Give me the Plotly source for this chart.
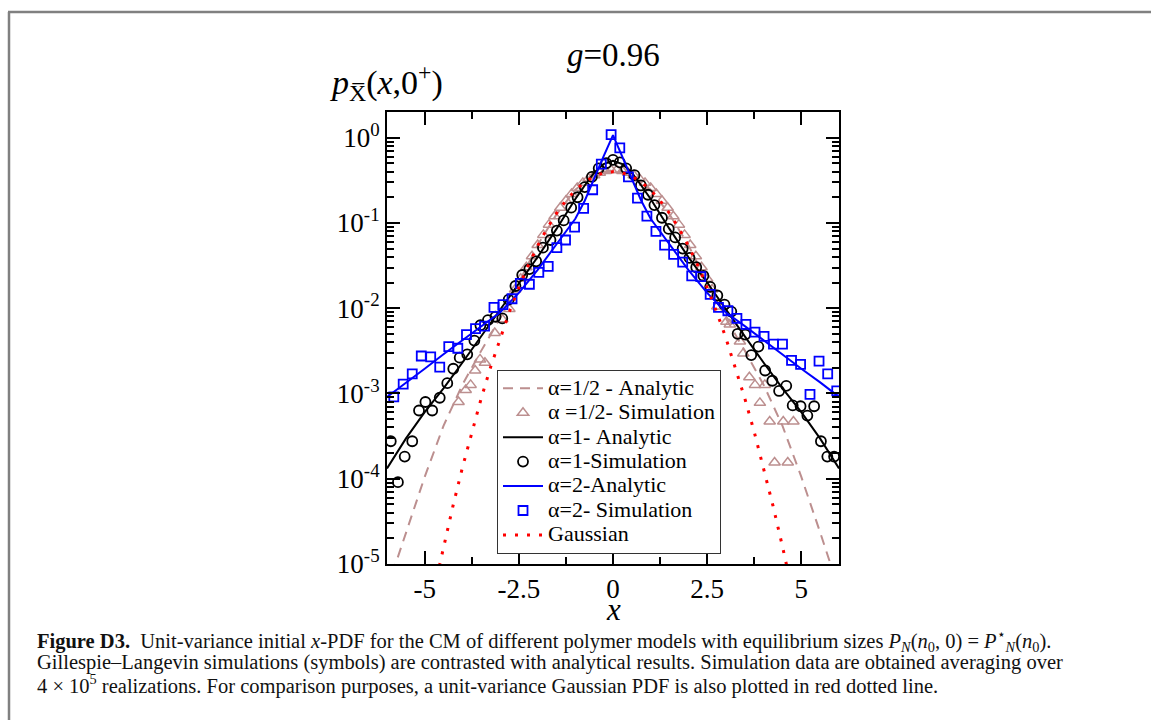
import plotly.graph_objects as go

# ---------------- data ----------------
# analytic curves (sampled)
curve_x = [-6, -5.5, -5, -4.5, -4, -3.5, -3, -2.5, -2, -1.5, -1, -0.75, -0.5, -0.25, 0,
           0.25, 0.5, 0.75, 1, 1.5, 2, 2.5, 3, 3.5, 4, 4.5, 5, 5.5, 6]
half_y = [5.0e-6, 2.34e-5, 1.05e-4, 4.17e-4, 1.26e-3, 3.16e-3, 7.59e-3, 2.00e-2, 5.50e-2, 0.126, 0.245, 0.300, 0.363, 0.395, 0.417,
          0.395, 0.363, 0.300, 0.245, 0.126, 5.50e-2, 2.00e-2, 7.59e-3, 3.16e-3, 1.26e-3, 4.17e-4, 1.05e-4, 2.34e-5, 5.0e-6]
one_y = [1.32e-4, 2.95e-4, 6.03e-4, 1.15e-3, 2.29e-3, 4.68e-3, 9.55e-3, 2.00e-2, 3.98e-2, 8.51e-2, 0.191, 0.275, 0.389, 0.490, 0.537,
         0.490, 0.389, 0.275, 0.191, 8.51e-2, 3.98e-2, 2.00e-2, 9.55e-3, 4.68e-3, 2.29e-3, 1.15e-3, 6.03e-4, 2.95e-4, 1.32e-4]
two_y = [9.12e-4, 1.35e-3, 1.95e-3, 2.88e-3, 4.17e-3, 6.17e-3, 8.91e-3, 1.51e-2, 2.82e-2, 5.62e-2, 0.112, 0.182, 0.339, 0.603, 1.072,
         0.603, 0.339, 0.182, 0.112, 5.62e-2, 2.82e-2, 1.51e-2, 8.91e-3, 6.17e-3, 4.17e-3, 2.88e-3, 1.95e-3, 1.35e-3, 9.12e-4]

gauss_x = [-4.75, -4.5, -4.25, -4, -3.75, -3.5, -3.25, -3, -2.75, -2.5, -2.25, -2, -1.75, -1.5, -1.25, -1, -0.75, -0.5, -0.25, 0,
           0.25, 0.5, 0.75, 1, 1.25, 1.5, 1.75, 2, 2.25, 2.5, 2.75, 3, 3.25, 3.5, 3.75, 4, 4.25, 4.5, 4.75]
gauss_y = [5.03e-6, 1.60e-5, 4.77e-5, 1.34e-4, 3.53e-4, 8.73e-4, 2.03e-3, 4.43e-3, 9.09e-3, 1.75e-2, 3.17e-2, 5.40e-2, 8.63e-2, 0.1295, 0.1826, 0.2420, 0.3011, 0.3521, 0.3867, 0.3989,
           0.3867, 0.3521, 0.3011, 0.2420, 0.1826, 0.1295, 8.63e-2, 5.40e-2, 3.17e-2, 1.75e-2, 9.09e-3, 4.43e-3, 2.03e-3, 8.73e-4, 3.53e-4, 1.34e-4, 4.77e-5, 1.60e-5, 5.03e-6]

# simulations
tri_x = [-4.10, -3.91, -3.78, -3.66, -3.53, -3.40, -3.14, -2.94, -2.75,
         -2.6, -2.45, -2.3, -2.15, -2.0, -1.85, -1.7, -1.55, -1.4, -1.25, -1.1, -0.95, -0.8, -0.65, -0.5, -0.35, -0.2, -0.05,
         0.1, 0.25, 0.4, 0.55, 0.7, 0.85, 1.0, 1.15, 1.3, 1.45, 1.6, 1.75, 1.9, 2.05, 2.2, 2.35, 2.5, 2.63,
         2.77, 3.01, 3.10, 3.37, 3.46, 3.62, 3.77, 3.90, 4.03, 4.16, 4.29, 4.52, 4.64, 4.79]
tri_y = [7.94e-4, 1.10e-3, 1.26e-3, 1.86e-3, 2.51e-3, 2.29e-3, 5.13e-3, 7.41e-3, 9.77e-3,
         1.66e-2, 2.21e-2, 3.02e-2, 4.07e-2, 5.50e-2, 7.24e-2, 9.55e-2, 0.120, 0.151, 0.182, 0.219, 0.257, 0.295, 0.331, 0.363, 0.389, 0.407, 0.417,
         0.417, 0.407, 0.389, 0.363, 0.331, 0.295, 0.257, 0.219, 0.182, 0.151, 0.120, 9.55e-2, 7.24e-2, 5.50e-2, 4.07e-2, 3.02e-2, 2.21e-2, 1.66e-2,
         1.05e-2, 6.92e-3, 6.46e-3, 4.07e-3, 2.95e-3, 1.55e-3, 1.26e-3, 7.76e-4, 1.26e-3, 4.68e-4, 1.55e-4, 4.68e-4, 1.55e-4, 4.68e-4]

circ_x = [-5.90, -5.71, -5.53, -5.33, -5.15, -4.98, -4.80, -4.60, -4.40, -4.24, -4.07, -3.87, -3.68, -3.52, -3.32, -3.12, -2.94,
          -2.77, -2.59, -2.41, -2.22, -2.04, -1.86, -1.66, -1.49, -1.31, -1.11, -0.94, -0.75, -0.56, -0.38, -0.18, 0.00,
          0.18, 0.35, 0.57, 0.74, 0.93, 1.10, 1.30, 1.48, 1.65, 1.85, 2.03, 2.21, 2.40, 2.58, 2.77, 2.96,
          3.14, 3.31, 3.51, 3.67, 3.86, 4.04, 4.23, 4.41, 4.60, 4.77, 4.98, 5.16, 5.34, 5.52, 5.69, 5.87]
circ_y = [2.75e-4, 9.12e-5, 1.82e-4, 2.75e-4, 6.31e-4, 7.94e-4, 6.31e-4, 8.91e-4, 1.32e-3, 1.95e-3, 2.63e-3, 2.88e-3, 4.17e-3, 6.31e-3, 7.24e-3, 7.94e-3, 7.59e-3,
          1.26e-2, 1.82e-2, 2.45e-2, 2.88e-2, 3.55e-2, 5.13e-2, 6.31e-2, 8.13e-2, 0.107, 0.151, 0.200, 0.263, 0.347, 0.437, 0.501, 0.550,
          0.513, 0.437, 0.363, 0.275, 0.214, 0.162, 0.115, 8.51e-2, 6.76e-2, 5.01e-2, 3.89e-2, 3.02e-2, 2.40e-2, 1.78e-2, 1.41e-2, 1.10e-2,
          9.12e-3, 5.01e-3, 4.90e-3, 2.82e-3, 3.55e-3, 1.86e-3, 1.41e-3, 1.07e-3, 1.23e-3, 7.24e-4, 7.08e-4, 5.50e-4, 7.08e-4, 2.75e-4, 1.82e-4, 1.82e-4]

sq_x = [-5.82, -5.57, -5.33, -5.09, -4.84, -4.60, -4.36, -4.12, -3.89, -3.65, -3.41, -3.16, -2.92, -2.68, -2.46, -2.22, -1.97,
        -1.72, -1.49, -1.26, -1.02, -0.78, -0.54, -0.31, -0.05,
        0.18, 0.41, 0.65, 0.90, 1.14, 1.37, 1.61, 1.85, 2.09, 2.33, 2.58, 2.80, 3.05, 3.29, 3.53, 3.77, 4.01, 4.26, 4.50, 4.74,
        4.98, 5.23, 5.47, 5.70, 5.94]
sq_y = [9.12e-4, 1.29e-3, 1.70e-3, 2.75e-3, 2.69e-3, 2.04e-3, 3.55e-3, 3.39e-3, 4.90e-3, 5.75e-3, 6.17e-3, 1.02e-2, 1.10e-2, 1.29e-2, 1.95e-2, 1.91e-2, 2.63e-2,
        3.09e-2, 5.13e-2, 6.31e-2, 8.91e-2, 0.148, 0.245, 0.490, 1.084,
        0.759, 0.347, 0.195, 0.120, 7.94e-2, 5.50e-2, 4.27e-2, 3.47e-2, 2.40e-2, 2.34e-2, 1.45e-2, 1.02e-2, 9.33e-3, 7.59e-3, 6.46e-3, 5.25e-3,
        4.68e-3, 3.80e-3, 3.80e-3, 2.45e-3, 2.19e-3, 9.77e-4, 2.40e-3, 1.70e-3, 1.07e-3]

names = ["α=1/2 - Analytic", "α =1/2- Simulation", "α=1- Analytic", "α=1-Simulation",
         "α=2-Analytic", "α=2- Simulation", "Gaussian"]
y_tickvals = [1e-5, 1e-4, 1e-3, 1e-2, 1e-1, 1]
y_ticktext = ["10<sup>-5</sup>", "10<sup>-4</sup>", "10<sup>-3</sup>", "10<sup>-2</sup>", "10<sup>-1</sup>", "10<sup>0</sup>"]
x_tickvals = [-5, -2.5, 0, 2.5, 5]
x_ticktext = ["-5", "-2.5", "0", "2.5", "5"]

BROWN = "#bc8f8f"
BLUE = "#0000ff"
FONT = "Liberation Serif"


def lg(name):
    # legend text drawn larger than the row pitch font
    return '<span style="font-size:22px">' + name + "</span>"


fig = go.Figure()
fig.add_trace(go.Scatter(x=curve_x, y=half_y, mode="lines", name=lg(names[0]),
                         line=dict(color=BROWN, width=2, dash="10px,7px")))
fig.add_trace(go.Scatter(x=tri_x, y=tri_y, mode="markers", name=lg(names[1]),
                         marker=dict(symbol="triangle-up-open", size=10, color=BROWN, line=dict(width=1.5, color=BROWN))))
fig.add_trace(go.Scatter(x=curve_x, y=one_y, mode="lines", name=lg(names[2]),
                         line=dict(color="black", width=2)))
fig.add_trace(go.Scatter(x=circ_x, y=circ_y, mode="markers", name=lg(names[3]),
                         marker=dict(symbol="circle-open", size=10, color="black", line=dict(width=1.8, color="black"))))
fig.add_trace(go.Scatter(x=curve_x, y=two_y, mode="lines", name=lg(names[4]),
                         line=dict(color=BLUE, width=2)))
fig.add_trace(go.Scatter(x=sq_x, y=sq_y, mode="markers", name=lg(names[5]),
                         marker=dict(symbol="square-open", size=9, color=BLUE, line=dict(width=1.8, color=BLUE))))
fig.add_trace(go.Scatter(x=gauss_x, y=gauss_y, mode="lines", name=lg(names[6]),
                         line=dict(color="#ff0000", width=3, dash="3px,9px")))

L, R, T, B = 387, 312, 112, 156
W, H = 1151, 720
PW, PH = W - L - R, H - T - B


def px(xp):
    return (xp - L) / PW


def py(yp):
    return (H - B - yp) / PH


fig.update_layout(
    width=W, height=H,
    margin=dict(l=L, r=R, t=T, b=B, pad=0),
    paper_bgcolor="white", plot_bgcolor="white",
    font=dict(family=FONT, color="black", size=20),
    showlegend=True,
    legend=dict(x=px(497), y=py(370), xanchor="left", yanchor="top",
                bordercolor="#333333", borderwidth=1, bgcolor="white",
                font=dict(family=FONT, size=16.5, color="black"),
                tracegroupgap=0, itemwidth=40),
    xaxis=dict(range=[-6, 6], tickmode="array", tickvals=x_tickvals, ticktext=x_ticktext,
               ticks="inside", ticklen=13, tickwidth=1.5, tickcolor="black",
               showline=True, linecolor="black", linewidth=2, mirror="allticks",
               showgrid=False, zeroline=False,
               tickfont=dict(family=FONT, size=27, color="black"),
               minor=dict(ticks="inside", ticklen=7, tickwidth=1.5, tickcolor="black", dtick=1.25, tick0=0, showgrid=False)),
    yaxis=dict(type="log", range=[-5, 0.301], tickmode="array", tickvals=y_tickvals, ticktext=y_ticktext,
               ticks="inside", ticklen=13, tickwidth=1.5, tickcolor="black",
               showline=True, linecolor="black", linewidth=2, mirror="allticks",
               showgrid=False, zeroline=False,
               tickfont=dict(family=FONT, size=27, color="black"),
               minor=dict(ticks="inside", ticklen=7, tickwidth=1.5, tickcolor="black", dtick="D1", showgrid=False)),
)

ann = []
ann.append(dict(x=px(613), y=py(55), xref="paper", yref="paper", showarrow=False,
                text="<i>g</i>=0.96", font=dict(family=FONT, size=33, color="black"),
                xanchor="center", yanchor="middle"))
ann.append(dict(x=px(386), y=py(82), xref="paper", yref="paper", showarrow=False,
                text="<i>p</i><sub>X̅</sub>(<i>x</i>,0<sup>+</sup>)", font=dict(family=FONT, size=34, color="black"),
                xanchor="center", yanchor="middle"))
ann.append(dict(x=px(613), y=py(609), xref="paper", yref="paper", showarrow=False,
                text="<i>x</i>", font=dict(family=FONT, size=31, color="black"),
                xanchor="center", yanchor="middle"))

cap = [
    "<b>Figure D3.</b>  Unit-variance initial <i>x</i>-PDF for the CM of different polymer models with equilibrium sizes "
    "<i>P</i><sub><i>N</i></sub>(<i>n</i><sub>0</sub>, 0) = <i>P</i><sup>⋆</sup><sub><i>N</i></sub>(<i>n</i><sub>0</sub>).",
    "Gillespie–Langevin simulations (symbols) are contrasted with analytical results. Simulation data are obtained averaging over",
    "4 × 10<sup>5</sup> realizations. For comparison purposes, a unit-variance Gaussian PDF is also plotted in red dotted line.",
]
for i, (t, yy) in enumerate(zip(cap, [640, 662, 684])):
    ann.append(dict(x=px(35), y=py(yy), xref="paper", yref="paper", showarrow=False,
                    text=t, font=dict(family=FONT, size=20.5, color="#111111"),
                    xanchor="left", yanchor="middle", align="left"))
fig.update_layout(annotations=ann)

# figure frame (gray border)
fig.add_shape(type="line", xref="paper", yref="paper", x0=px(9), x1=px(9), y0=py(722), y1=py(12),
              line=dict(color="#808080", width=2.5))
fig.add_shape(type="line", xref="paper", yref="paper", x0=px(8), x1=px(1155), y0=py(12), y1=py(12),
              line=dict(color="#808080", width=2.5))

fig.write_html("out.html")
